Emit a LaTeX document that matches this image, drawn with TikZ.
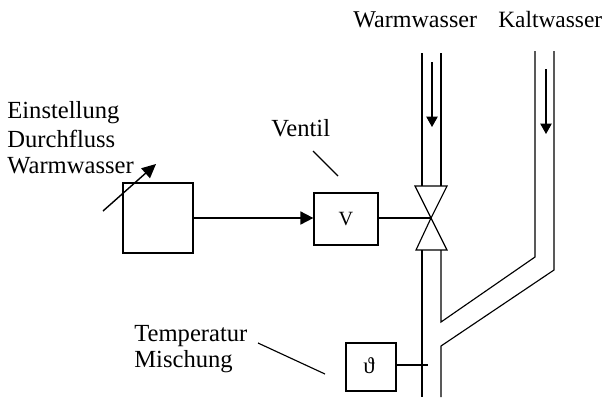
\documentclass[tikz,border=0pt]{standalone}
\usepackage{fontspec}
\setmainfont{Liberation Serif}
\usetikzlibrary{arrows.meta}
\usetikzlibrary{positioning}
\tikzset{
  pipe/.style={line width=0.65pt},
  box/.style={draw, line width=0.7pt, inner sep=0pt},
  label/.style={inner sep=0pt, anchor=base west, font=\fontsize{14}{16}\selectfont},
  flow/.style={line width=0.65pt, -{Triangle[length=2.1mm,width=2.3mm]}},
  signal/.style={line width=1pt, -{Triangle[length=2.6mm,width=2.6mm]}}
}
\begin{document}
\begin{tikzpicture}[x=0.02cm,y=-0.02cm]
    \useasboundingbox (0,0) rectangle (604,397);
    % boxes
    \node[box, minimum width=1.4cm, minimum height=1.4cm] (stell) at (158,218) {};
    \node[box, minimum width=1.28cm, minimum height=1.04cm] (ventil) at (346,219) {};
    \node[box, minimum width=1cm, minimum height=0.96cm] (temp) at (371,367) {};
    \node[inner sep=0pt, anchor=base, font=\fontsize{11.5}{13}\selectfont] (vtext) at (346,225) {V};
    \node[inner sep=0pt, anchor=base, font=\fontsize{13}{15}\selectfont] (ttext) at (369,373) {ϑ};
    % valve
    \coordinate (mitte) at (431,218);
    \coordinate (obenL) at (415,186);
    \coordinate (obenR) at (447,186);
    \coordinate (untenL) at (416,250);
    \coordinate (untenR) at (447,250);
    \draw[pipe] (mitte) -- (obenL) -- (obenR) -- cycle;
    \draw[pipe] (mitte) -- (untenL) -- (untenR) -- cycle;
    % warm pipe
    \coordinate (w1) at (422,53);
    \coordinate (w2) at (422,186);
    \coordinate (w3) at (441,53);
    \coordinate (w4) at (441,186);
    \draw[pipe] (w1) -- (w2);
    \draw[pipe] (w3) -- (w4);
    % cold pipe and mixing
    \coordinate (k1) at (535,51);
    \coordinate (k2) at (535,257);
    \coordinate (k3) at (441,322);
    \coordinate (k4) at (441,250);
    \coordinate (k5) at (554,51);
    \coordinate (k6) at (554,270);
    \coordinate (k7) at (441,346);
    \coordinate (k8) at (441,397);
    \coordinate (m1) at (422,250);
    \coordinate (m2) at (422,397);
    \draw[pipe] (k1) -- (k2) -- (k3) -- (k4);
    \draw[pipe] (k5) -- (k6) -- (k7) -- (k8);
    \draw[pipe] (m1) -- (m2);
    % flow arrows
    \coordinate (fw1) at (432,62);
    \coordinate (fw2) at (432,127);
    \coordinate (fk1) at (546,69);
    \coordinate (fk2) at (546,134);
    \draw[flow] (fw1) -- (fw2);
    \draw[flow] (fk1) -- (fk2);
    % signals
    \draw[signal] (stell.east) -- (ventil.west |- stell.east);
    \draw[pipe] (ventil.east |- mitte) -- (mitte);
    \coordinate (fuehler) at (428,365);
    \draw[pipe] (temp.east |- fuehler) -- (fuehler);
    % adjust arrow
    \coordinate (e1) at (103,211);
    \coordinate (e2) at (156,164);
    \draw[line width=0.8pt, -{Triangle[length=2.8mm,width=2.6mm]}] (e1) -- (e2);
    % leader lines
    \coordinate (vl1) at (313,151);
    \coordinate (vl2) at (338,176);
    \coordinate (tl1) at (258,343);
    \coordinate (tl2) at (325,374);
    \draw[pipe] (vl1) -- (vl2);
    \draw[pipe] (tl1) -- (tl2);
    % labels
    \node[label, font=\fontsize{13.7}{16}\selectfont] (lwarm) at (353,27) {Warmwasser};
    \node[label, font=\fontsize{13.3}{16}\selectfont] (lkalt) at (498,27) {Kaltwasser};
    \node[label] (leinst) at (7,118) {Einstellung};
    \node[label] (ldurch) at (7,147) {Durchfluss};
    \node[label] (lwasser) at (7,173) {Warmwasser};
    \node[label] (lventil) at (271,136) {Ventil};
    \node[label] (ltemp) at (134,341) {Temperatur};
    \node[label] (lmisch) at (134,367) {Mischung};
\end{tikzpicture}
\end{document}
